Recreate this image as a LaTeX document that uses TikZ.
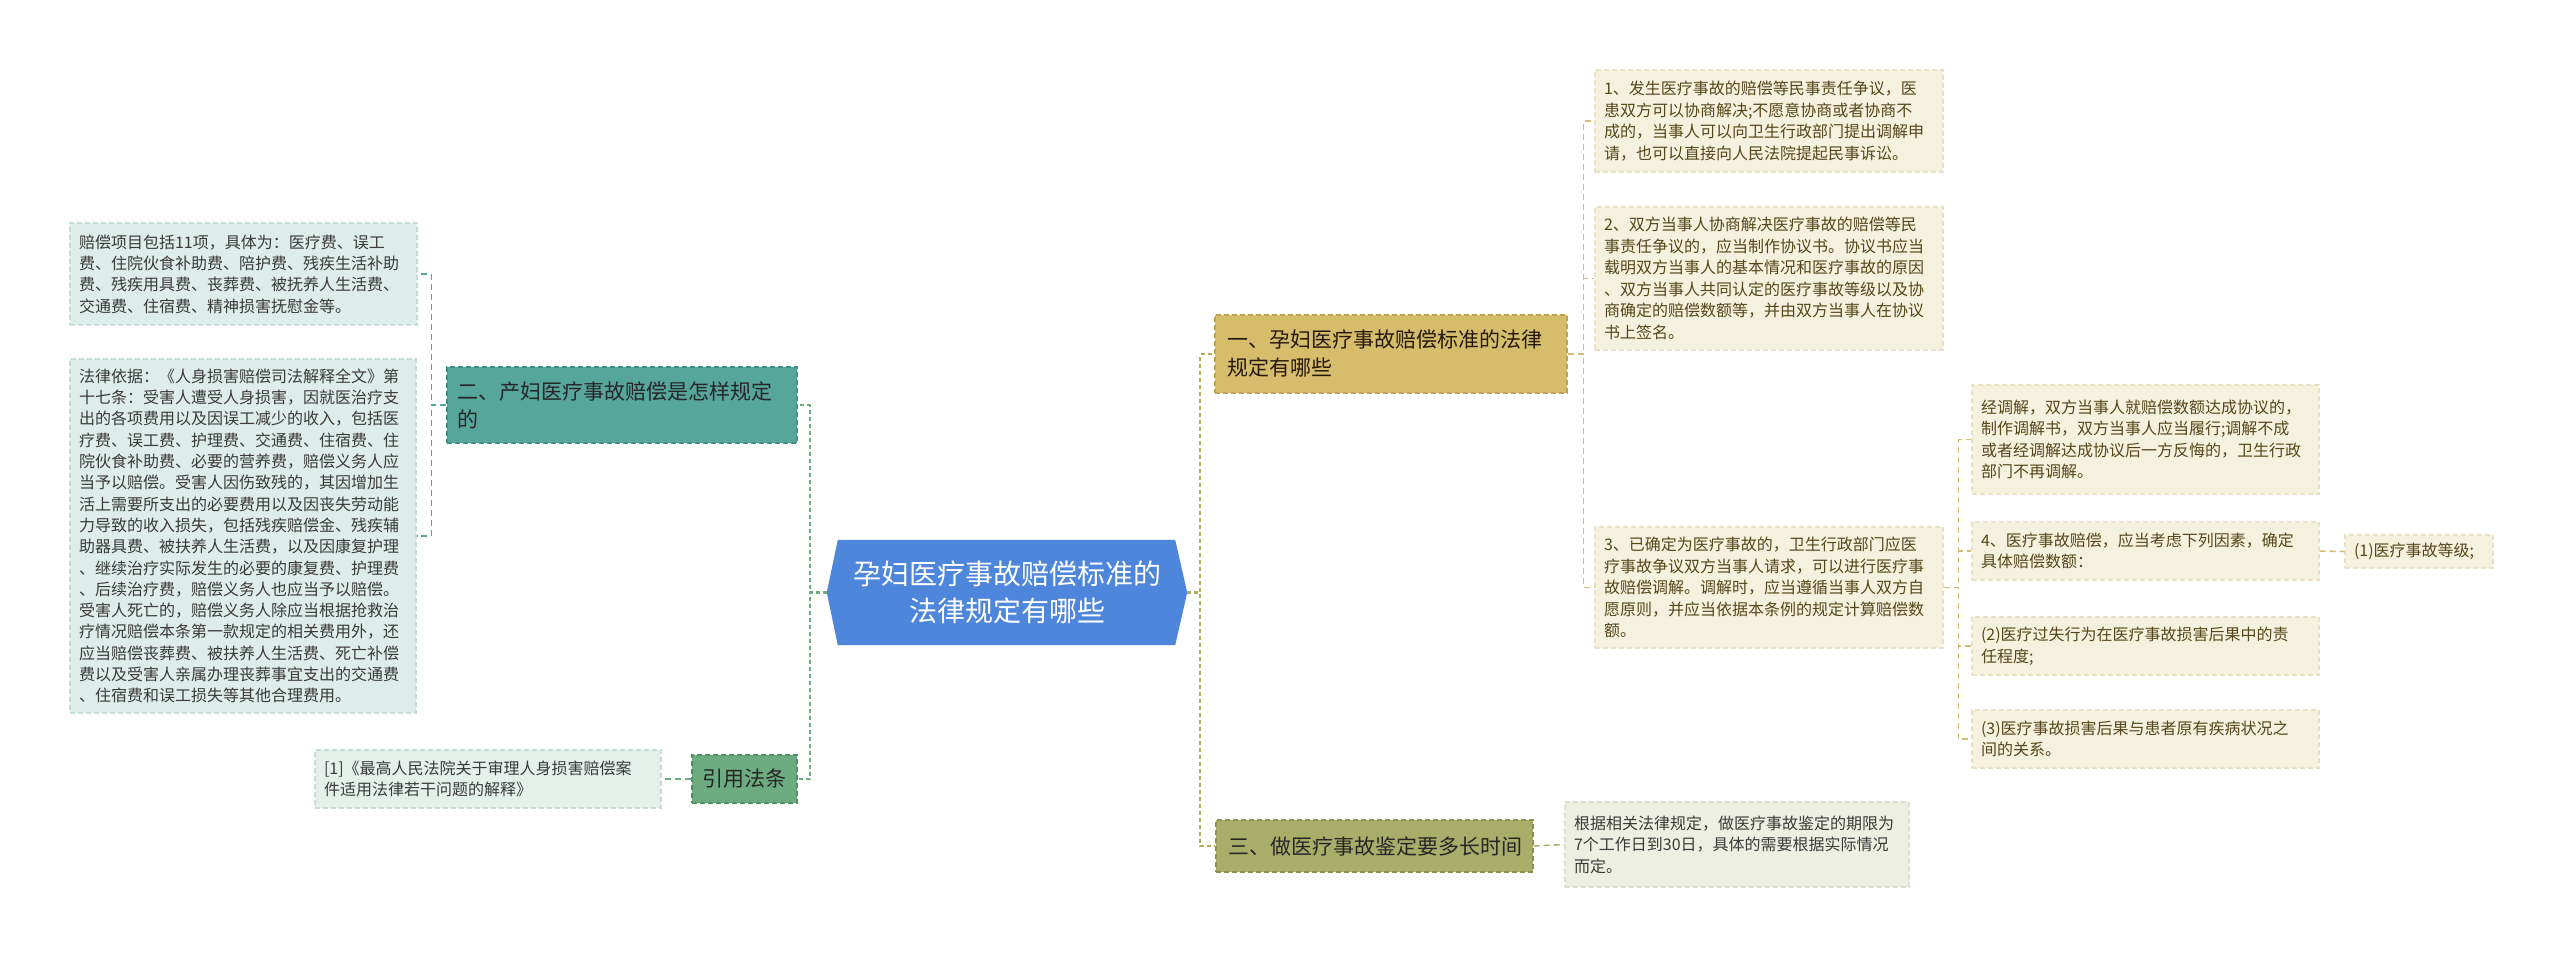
\documentclass[tikz,border=0pt]{standalone}
\usepackage{fontspec}
\setmainfont{Noto Sans CJK SC}
\usetikzlibrary{backgrounds}
\definecolor{rootfill}{HTML}{4D86DA}
\definecolor{tealfill}{HTML}{57A69B}
\definecolor{tealline}{HTML}{3F8E82}
\definecolor{greenfill}{HTML}{6DAB80}
\definecolor{greenline}{HTML}{4F9063}
\definecolor{goldfill}{HTML}{D5BD6B}
\definecolor{goldline}{HTML}{BBA250}
\definecolor{olivefill}{HTML}{A8AE6A}
\definecolor{oliveline}{HTML}{8C9250}
\definecolor{leafLfill}{HTML}{DDEDEA}
\definecolor{leafLline}{HTML}{C6DCD8}
\definecolor{citefill}{HTML}{E6F0EB}
\definecolor{leafRfill}{HTML}{F5F1DF}
\definecolor{leafRline}{HTML}{E9E1C4}
\definecolor{leafOfill}{HTML}{EEEFE3}
\definecolor{leafOline}{HTML}{DDDFCC}
\definecolor{txtgray}{HTML}{3A3A3A}
\definecolor{txtbrown}{HTML}{55471A}
\definecolor{connL}{HTML}{6DAB80}
\definecolor{connR}{HTML}{B0AE5E}
\definecolor{connGold}{HTML}{D2BE74}
\begin{document}
\begin{tikzpicture}[x=1pt,y=-1pt,
  box/.style={rectangle, inner xsep=9pt, inner ysep=0pt, align=left, anchor=center},
  bdr/.style={dash pattern=on 5pt off 3pt, line width=1.3pt},
  leafL/.style={box, fill=leafLfill, draw=leafLline, bdr, text=txtgray, font=\fontsize{16}{21.3}\selectfont},
  leafC/.style={box, fill=citefill, draw=leafLline, bdr, text=txtgray, font=\fontsize{16}{21.3}\selectfont},
  leafR/.style={box, fill=leafRfill, draw=leafRline, bdr, text=txtbrown, font=\fontsize{16}{21.5}\selectfont},
  leafO/.style={box, fill=leafOfill, draw=leafOline, bdr, text=txtgray, font=\fontsize{16}{21.5}\selectfont},
  mainbox/.style={box, inner xsep=10pt, bdr, font=\fontsize{21}{28}\selectfont},
  tealbox/.style={mainbox, fill=tealfill, draw=tealline, text=black!85},
  greenbox/.style={mainbox, fill=greenfill, draw=greenline, text=black!85},
  goldbox/.style={mainbox, inner xsep=12pt, fill=goldfill, draw=goldline, text=black!80!brown},
  olivebox/.style={mainbox, inner xsep=12pt, fill=olivefill, draw=oliveline, text=black!85},
  rootbox/.style={rectangle, inner sep=0pt, align=center, text=white, minimum width=360pt, minimum height=105pt, font=\fontsize{28}{37}\selectfont},
  mainconn/.style={line width=2.4pt, dash pattern=on 4pt off 3pt},
  leafconn/.style={line width=1.5pt, dash pattern=on 6pt off 4pt}
]
\useasboundingbox (0,0) rectangle (2560,955);

% root
\node[rootbox] (root) at (1007,592.5) {孕妇医疗事故赔偿标准的\\法律规定有哪些};

% left branch
\node[tealbox, text width=330pt, minimum height=76pt] (n2) at (622,405) {二、产妇医疗事故赔偿是怎样规定\\的};
\node[greenbox, text width=85pt, minimum height=48pt, align=center] (cite) at (744.5,779) {引用法条};
\node[leafL, text width=329pt, minimum height=102pt] (l1) at (243.5,274) {赔偿项目包括11项，具体为：医疗费、误工\\费、住院伙食补助费、陪护费、残疾生活补助\\费、残疾用具费、丧葬费、被抚养人生活费、\\交通费、住宿费、精神损害抚慰金等。};
\node[leafL, text width=328pt, minimum height=354pt] (l2) at (243,536) {法律依据：《人身损害赔偿司法解释全文》第\\十七条：受害人遭受人身损害，因就医治疗支\\出的各项费用以及因误工减少的收入，包括医\\疗费、误工费、护理费、交通费、住宿费、住\\院伙食补助费、必要的营养费，赔偿义务人应\\当予以赔偿。受害人因伤致残的，其因增加生\\活上需要所支出的必要费用以及因丧失劳动能\\力导致的收入损失，包括残疾赔偿金、残疾辅\\助器具费、被扶养人生活费，以及因康复护理\\、继续治疗实际发生的必要的康复费、护理费\\、后续治疗费，赔偿义务人也应当予以赔偿。\\受害人死亡的，赔偿义务人除应当根据抢救治\\疗情况赔偿本条第一款规定的相关费用外，还\\应当赔偿丧葬费、被扶养人生活费、死亡补偿\\费以及受害人亲属办理丧葬事宜支出的交通费\\、住宿费和误工损失等其他合理费用。};
\node[leafC, text width=328pt, minimum height=58pt] (cl) at (488,779) {[1]《最高人民法院关于审理人身损害赔偿案\\件适用法律若干问题的解释》};

% right branch
\node[goldbox, text width=328pt, minimum height=78pt] (n1) at (1391,354) {一、孕妇医疗事故赔偿标准的法律\\规定有哪些};
\node[olivebox, text width=293pt, minimum height=52pt] (n3) at (1374.5,846) {三、做医疗事故鉴定要多长时间};
\node[leafR, text width=330pt, minimum height=102pt] (r1) at (1769,121) {1、发生医疗事故的赔偿等民事责任争议，医\\患双方可以协商解决;不愿意协商或者协商不\\成的，当事人可以向卫生行政部门提出调解申\\请，也可以直接向人民法院提起民事诉讼。};
\node[leafR, text width=330pt, minimum height=143pt] (r2) at (1769,278.5) {2、双方当事人协商解决医疗事故的赔偿等民\\事责任争议的，应当制作协议书。协议书应当\\载明双方当事人的基本情况和医疗事故的原因\\、双方当事人共同认定的医疗事故等级以及协\\商确定的赔偿数额等，并由双方当事人在协议\\书上签名。};
\node[leafR, text width=330pt, minimum height=121pt] (r3) at (1769,587.5) {3、已确定为医疗事故的，卫生行政部门应医\\疗事故争议双方当事人请求，可以进行医疗事\\故赔偿调解。调解时，应当遵循当事人双方自\\愿原则，并应当依据本条例的规定计算赔偿数\\额。};
\node[leafR, text width=329pt, minimum height=109pt] (s1) at (2145.5,439.5) {经调解，双方当事人就赔偿数额达成协议的，\\制作调解书，双方当事人应当履行;调解不成\\或者经调解达成协议后一方反悔的，卫生行政\\部门不再调解。};
\node[leafR, text width=329pt, minimum height=58pt] (s2) at (2145.5,551) {4、医疗事故赔偿，应当考虑下列因素，确定\\具体赔偿数额：};
\node[leafR, text width=329pt, minimum height=58pt] (s3) at (2145.5,646) {(2)医疗过失行为在医疗事故损害后果中的责\\任程度;};
\node[leafR, text width=329pt, minimum height=58pt] (s4) at (2145.5,739) {(3)医疗事故损害后果与患者原有疾病状况之\\间的关系。};
\node[leafR, text width=130pt, minimum height=33pt] (t1) at (2419,551.5) {(1)医疗事故等级;};
\node[leafO, text width=326pt, minimum height=85pt] (sl) at (1737,844.5) {根据相关法律规定，做医疗事故鉴定的期限为\\7个工作日到30日，具体的需要根据实际情况\\而定。};

% background: white page and hexagon root
\begin{scope}[on background layer]
\fill[white] (0,0) rectangle (2560,955);
\fill[rootfill] (root.west) -- ([xshift=11pt]root.north west) -- ([xshift=-12pt]root.north east) -- (root.east) -- ([xshift=-12pt]root.south east) -- ([xshift=11pt]root.south west) -- cycle;
\end{scope}

% connectors
\draw[mainconn, connL] (root.west) -- ++(-17,0) |- (n2.east);
\draw[mainconn, connL] (root.west) -- ++(-17,0) |- (cite.east);
\draw[leafconn, tealfill] (n2.west) -- ++(-15,0) |- (l1.east);
\draw[leafconn, tealfill] (n2.west) -- ++(-15,0) |- (l2.east);
\draw[leafconn, greenfill] (cite.west) -- (cl.east);

\draw[mainconn, connR] (root.east) -- ++(13,0) |- (n1.west);
\draw[mainconn, connR] (root.east) -- ++(13,0) |- (n3.west);
\draw[leafconn, connGold] (n1.east) -- ++(16,0) |- (r1.west);
\draw[leafconn, connGold] (n1.east) -- ++(16,0) |- (r2.west);
\draw[leafconn, connGold] (n1.east) -- ++(16,0) |- (r3.west);
\draw[leafconn, connGold] (r3.east) -- ++(15,0) |- (s1.west);
\draw[leafconn, connGold] (r3.east) -- ++(15,0) |- (s2.west);
\draw[leafconn, connGold] (r3.east) -- ++(15,0) |- (s3.west);
\draw[leafconn, connGold] (r3.east) -- ++(15,0) |- (s4.west);
\draw[leafconn, connGold] (s2.east) -- (t1.west);
\draw[leafconn, olivefill] (n3.east) -- (sl.west);
\end{tikzpicture}
\end{document}
